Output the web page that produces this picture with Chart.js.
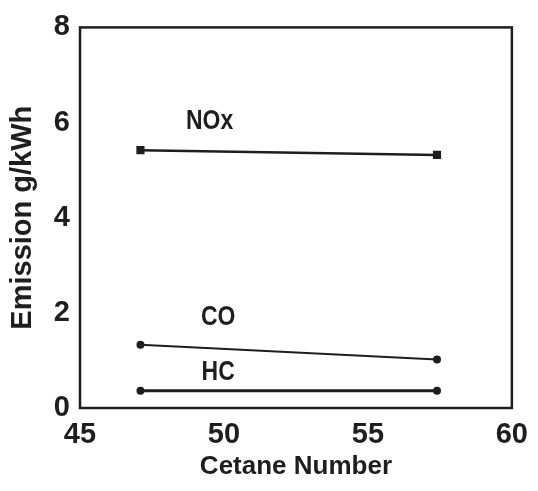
<!DOCTYPE html>
<html>
<head>
<meta charset="utf-8">
<script src="https://cdn.jsdelivr.net/npm/chart.js@4.4.0/dist/chart.umd.min.js"></script>
<style>
html,body{margin:0;padding:0;background:#fff;}
#wrap{width:538px;height:491px;}
</style>
</head>
<body>
<div id="wrap"><canvas id="c" width="538" height="491"></canvas></div>
<script>
const cetane = [47.1, 57.4];
const noxValues = [5.42, 5.32];
const coValues = [1.33, 1.02];
const hcValues = [0.36, 0.36];
const xTicks = [45, 50, 55, 60];
const yTicks = [0, 2, 4, 6, 8];
const labelText = ['NOx', 'CO', 'HC'];
const labelX = [49.5, 49.8, 49.8];
const labelY = [6.03, 1.9, 0.76];

const INK = '#1e1e1e';
const FONT = "'Liberation Sans Narrow', 'Liberation Sans', sans-serif";

function pts(vals){ return cetane.map((x,i)=>({x:x,y:vals[i]})); }

const boxPlugin = {
  id:'box',
  beforeDatasetsDraw(chart){
    const a = chart.chartArea, ctx = chart.ctx;
    ctx.save();
    ctx.strokeStyle = INK;
    ctx.lineWidth = 2.5;
    ctx.strokeRect(a.left, a.top, a.right-a.left, a.bottom-a.top);
    ctx.restore();
  },
  afterDatasetsDraw(chart){
    const ctx = chart.ctx, xs = chart.scales.x, ys = chart.scales.y;
    ctx.save();
    ctx.fillStyle = INK;
    ctx.font = "bold 28px " + FONT;
    ctx.textAlign = 'center';
    ctx.textBaseline = 'middle';
    labelText.forEach((t,i)=>{
      const px = xs.getPixelForValue(labelX[i]), py = ys.getPixelForValue(labelY[i]);
      ctx.save();
      ctx.translate(px, py);
      ctx.scale(0.82, 1);
      ctx.fillText(t, 0, 0);
      ctx.restore();
    });
    ctx.restore();
  }
};

new Chart(document.getElementById('c'), {
  type:'line',
  data:{
    datasets:[
      {label:'NOx', data:pts(noxValues), borderColor:INK, backgroundColor:INK, borderWidth:2.5, pointStyle:'rect', pointRadius:4, tension:0},
      {label:'CO', data:pts(coValues), borderColor:INK, backgroundColor:INK, borderWidth:2, pointStyle:'circle', pointRadius:3, tension:0},
      {label:'HC', data:pts(hcValues), borderColor:INK, backgroundColor:INK, borderWidth:3, pointStyle:'circle', pointRadius:2.5, tension:0}
    ]
  },
  options:{
    responsive:false,
    animation:false,
    layout:{padding:{left:0, right:26, top:22, bottom:0}},
    plugins:{legend:{display:false}, tooltip:{enabled:false}},
    scales:{
      x:{
        type:'linear', min:45, max:60,
        afterBuildTicks(s){ s.ticks = xTicks.map(v=>({value:v})); },
        afterFit(s){ s.height = 83; },
        grid:{display:false, drawTicks:false},
        border:{display:false},
        ticks:{color:INK, font:{family:FONT, size:29, weight:'bold'}, padding:10, maxRotation:0},
        title:{display:true, text:'Cetane Number', color:INK, font:{family:FONT, size:26, weight:'bold'}, padding:{top:3,bottom:9}}
      },
      y:{
        type:'linear', min:0, max:8,
        afterBuildTicks(s){ s.ticks = yTicks.map(v=>({value:v})); },
        afterFit(s){ s.width = 80; },
        grid:{display:false, drawTicks:false},
        border:{display:false},
        ticks:{color:INK, font:{family:FONT, size:29, weight:'bold'}, padding:10},
        title:{display:true, text:'Emission g/kWh', color:INK, font:{family:FONT, size:29, weight:'bold'}, padding:{top:6,bottom:0}}
      }
    }
  },
  plugins:[boxPlugin]
});
</script>
</body>
</html>
